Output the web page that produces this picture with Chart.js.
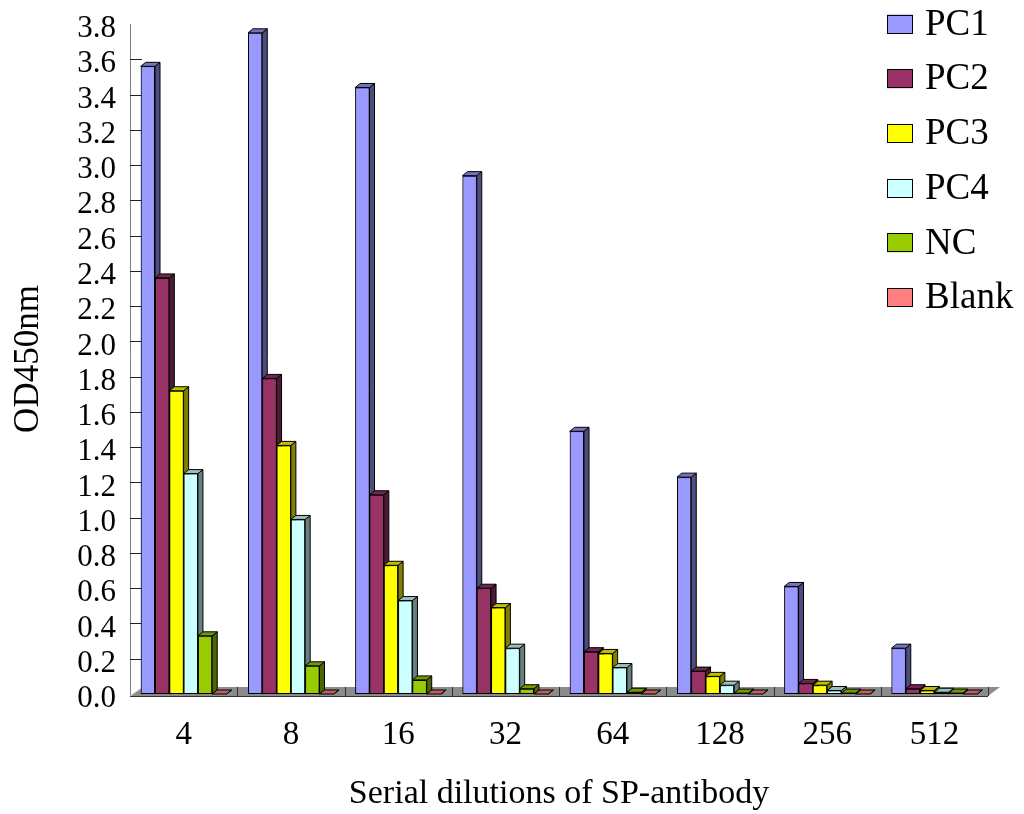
<!DOCTYPE html>
<html>
<head>
<meta charset="utf-8">
<title>OD450nm by dilution</title>
<script src="https://cdn.jsdelivr.net/npm/chart.js@4.4.0/dist/chart.umd.min.js"></script>
<style>
  body { margin: 0; background: #fff; }
</style>
</head>
<body>
<canvas id="chart" width="1024" height="814"></canvas>
<script>
// values
const dilutions = ['4', '8', '16', '32', '64', '128', '256', '512'];
const pc1 = [3.56, 3.75, 3.44, 2.94, 1.49, 1.23, 0.61, 0.26];
const pc2 = [2.36, 1.79, 1.13, 0.60, 0.24, 0.13, 0.06, 0.03];
const pc3 = [1.72, 1.41, 0.73, 0.49, 0.23, 0.10, 0.05, 0.02];
const pc4 = [1.25, 0.99, 0.53, 0.26, 0.15, 0.05, 0.02, 0.01];
const nc = [0.33, 0.16, 0.08, 0.03, 0.01, 0.005, 0.005, 0.005];
const blank = [0, 0, 0, 0, 0, 0, 0, 0];
const seriesNames = ['PC1', 'PC2', 'PC3', 'PC4', 'NC', 'Blank'];
const yMax = 3.8;
const yStep = 0.2;

// colours for the front, side and top faces
const frontColors = ['#9999FF', '#993366', '#FFFF00', '#CCFFFF', '#99CC00', '#FF8080'];
const sideColors = ['#4d4d80', '#4d1a33', '#808000', '#668080', '#4d6600', '#804040'];
const topColors = ['#7373bf', '#73264d', '#bfbf00', '#99bfbf', '#739900', '#bf6060'];

const FONT = '"Liberation Serif", "Times New Roman", serif';
const dx = 5, dy = 4;

function poly(ctx, pts) {
  ctx.beginPath();
  ctx.moveTo(pts[0][0], pts[0][1]);
  for (let i = 1; i < pts.length; i++) ctx.lineTo(pts[i][0], pts[i][1]);
  ctx.closePath();
  ctx.fill();
  ctx.stroke();
}

// floor, wall ticks and the fake depth of the bars
const bars3d = {
  id: 'bars3d',
  beforeDatasetsDraw(chart) {
    const { ctx, chartArea: a } = chart;
    const yScale = chart.scales.y;
    const front = a.bottom + 2, back = a.bottom - 7;
    ctx.save();
    ctx.fillStyle = '#8c8c8c';
    ctx.beginPath();
    ctx.moveTo(a.left, front);
    ctx.lineTo(a.right, front);
    ctx.lineTo(a.right + 12, back);
    ctx.lineTo(a.left + 13, back);
    ctx.closePath();
    ctx.fill();
    ctx.strokeStyle = '#d0d0d0';
    ctx.beginPath();
    ctx.moveTo(a.left, front);
    ctx.lineTo(a.left + 13, back);
    ctx.stroke();
    ctx.strokeStyle = '#333';
    ctx.lineWidth = 1;
    ctx.beginPath();
    ctx.moveTo(a.left, front + 0.5);
    ctx.lineTo(a.right, front + 0.5);
    ctx.stroke();
    const w = (a.right - a.left) / dilutions.length;
    for (let k = 1; k <= dilutions.length; k++) {
      const px = Math.round(a.left + k * w) + 0.5;
      ctx.beginPath();
      ctx.moveTo(px, back);
      ctx.lineTo(px, front);
      ctx.stroke();
    }
    ctx.strokeStyle = '#222';
    yScale.ticks.forEach((t, i) => {
      if (i === 0 || i === yScale.ticks.length - 1) return;
      const py = Math.round(yScale.getPixelForValue(t.value)) + 0.5;
      ctx.beginPath();
      ctx.moveTo(a.left, py);
      ctx.lineTo(a.left + 12, py);
      ctx.stroke();
    });
    ctx.restore();
  },
  afterDatasetsDraw(chart) {
    const ctx = chart.ctx;
    ctx.save();
    chart.data.datasets.forEach((ds, i) => {
      const meta = chart.getDatasetMeta(i);
      meta.data.forEach(bar => {
        bar.draw(ctx, chart.chartArea);
        const { x, y, base, width } = bar.getProps(['x', 'y', 'base', 'width'], true);
        const l = x - width / 2, r = x + width / 2;
        ctx.lineWidth = 1;
        ctx.strokeStyle = '#000';
        ctx.fillStyle = sideColors[i];
        poly(ctx, [[r, y], [r + dx, y - dy], [r + dx, base - dy], [r, base]]);
        ctx.fillStyle = topColors[i];
        poly(ctx, [[l, y], [l + dx, y - dy], [r + dx, y - dy], [r, y]]);
      });
    });
    ctx.restore();
  }
};

const sideLegend = {
  id: 'sideLegend',
  afterDraw(chart) {
    const ctx = chart.ctx;
    ctx.save();
    ctx.font = '37px ' + FONT;
    ctx.textBaseline = 'middle';
    ctx.lineWidth = 1;
    chart.data.datasets.forEach((ds, i) => {
      const cy = 24 + i * 54.7;
      ctx.fillStyle = ds.backgroundColor;
      ctx.fillRect(887, cy - 9.5, 26, 19);
      ctx.strokeStyle = '#000';
      ctx.strokeRect(887.5, Math.round(cy - 9.5) + 0.5, 25, 18);
      ctx.fillStyle = '#000';
      ctx.fillText(ds.label, 925, cy + 1);
    });
    ctx.restore();
  }
};

const allSeries = [pc1, pc2, pc3, pc4, nc, blank];

new Chart(document.getElementById('chart'), {
  type: 'bar',
  data: {
    labels: dilutions,
    datasets: allSeries.map((vals, i) => ({
      label: seriesNames[i],
      data: vals,
      backgroundColor: frontColors[i],
      borderColor: '#000',
      borderWidth: 1,
      borderSkipped: false,
      barPercentage: 1,
      categoryPercentage: 0.8
    }))
  },
  options: {
    responsive: false,
    animation: false,
    layout: { padding: { top: 24, right: 36, left: 0, bottom: 0 } },
    plugins: {
      legend: { display: false },
      tooltip: { enabled: false }
    },
    scales: {
      x: {
        afterFit(s) { s.height = 120; },
        grid: { display: false },
        border: { display: false },
        ticks: { padding: 14, color: '#000', font: { family: FONT, size: 33 } },
        title: {
          display: true,
          text: 'Serial dilutions of SP-antibody',
          color: '#000',
          font: { family: FONT, size: 34, lineHeight: 1.2 },
          padding: { top: 0, bottom: 0 }
        }
      },
      y: {
        min: 0,
        max: yMax,
        afterFit(s) { s.width = 130; },
        grid: { display: false },
        border: { display: true, color: '#808080', width: 1 },
        ticks: {
          stepSize: yStep,
          autoSkip: false,
          padding: 6,
          labelOffset: 5,
          color: '#000',
          font: { family: FONT, size: 31, lineHeight: 1 },
          callback: v => Number(v).toFixed(1)
        },
        title: {
          display: true,
          text: 'OD450nm',
          color: '#000',
          font: { family: FONT, size: 35, lineHeight: 1.2 },
          padding: { top: 8, bottom: 0 }
        }
      }
    }
  },
  plugins: [bars3d, sideLegend]
});
</script>
</body>
</html>
